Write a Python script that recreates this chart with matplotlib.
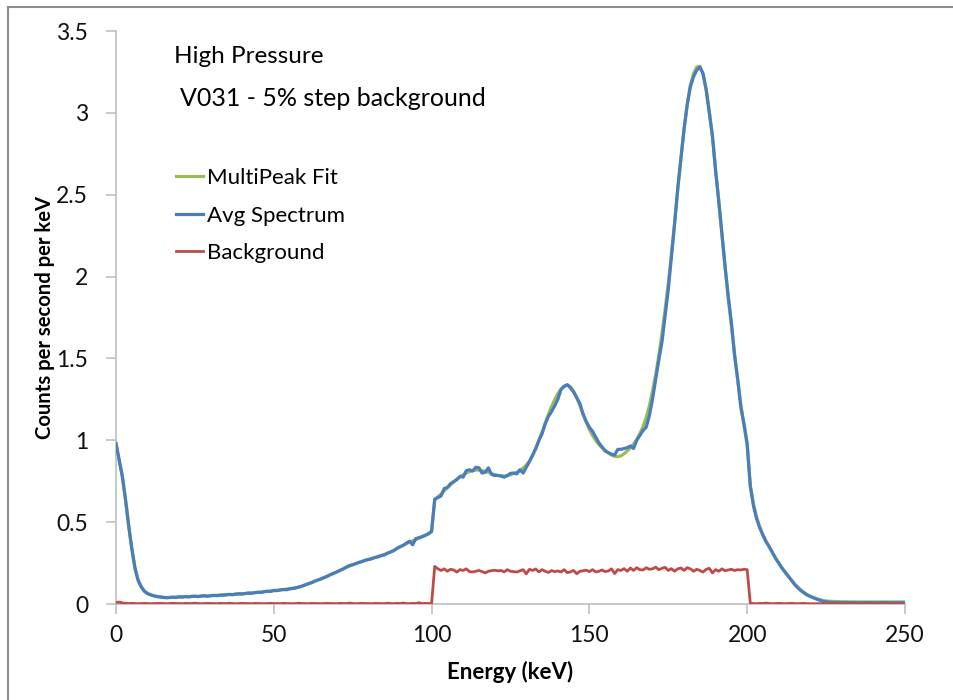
import numpy as np
import matplotlib
matplotlib.use("Agg")
import matplotlib.pyplot as plt
from matplotlib.patches import Rectangle

# energy bins, 1 keV wide
energy_kev = np.arange(0, 251)

avg_spectrum = [
    0.98, 0.88, 0.78, 0.64, 0.48, 0.34, 0.22, 0.145, 0.105, 0.078,
    0.064, 0.056, 0.050, 0.046, 0.043, 0.040, 0.038, 0.040, 0.042, 0.040,
    0.044, 0.042, 0.046, 0.043, 0.047, 0.048, 0.045, 0.049, 0.051, 0.047,
    0.051, 0.053, 0.051, 0.055, 0.054, 0.057, 0.059, 0.057, 0.061, 0.063,
    0.061, 0.065, 0.067, 0.066, 0.070, 0.072, 0.071, 0.076, 0.078, 0.077,
    0.084, 0.082, 0.086, 0.089, 0.087, 0.093, 0.095, 0.099, 0.104, 0.110,
    0.117, 0.124, 0.131, 0.140, 0.147, 0.154, 0.162, 0.170, 0.180, 0.188,
    0.196, 0.206, 0.214, 0.226, 0.235, 0.240, 0.247, 0.254, 0.260, 0.268,
    0.272, 0.276, 0.284, 0.288, 0.296, 0.300, 0.310, 0.318, 0.326, 0.340,
    0.350, 0.358, 0.372, 0.384, 0.362, 0.400, 0.405, 0.412, 0.420, 0.430,
    0.445, 0.640, 0.650, 0.660, 0.705, 0.712, 0.735, 0.748, 0.760, 0.780,
    0.775, 0.815, 0.820, 0.812, 0.835, 0.832, 0.800, 0.805, 0.832, 0.792,
    0.785, 0.785, 0.782, 0.775, 0.785, 0.798, 0.800, 0.795, 0.820, 0.800,
    0.835, 0.870, 0.910, 0.950, 1.000, 1.040, 1.100, 1.145, 1.175, 1.210,
    1.250, 1.310, 1.330, 1.340, 1.320, 1.295, 1.260, 1.225, 1.160, 1.115,
    1.080, 1.055, 1.020, 0.985, 0.960, 0.935, 0.925, 0.915, 0.910, 0.945,
    0.945, 0.950, 0.955, 0.965, 0.950, 1.000, 1.030, 1.060, 1.080, 1.150,
    1.250, 1.370, 1.490, 1.600, 1.760, 1.920, 2.120, 2.320, 2.540, 2.720,
    2.900, 3.050, 3.160, 3.220, 3.260, 3.280, 3.240, 3.140, 3.000, 2.860,
    2.640, 2.460, 2.260, 2.060, 1.880, 1.720, 1.520, 1.370, 1.200, 1.100,
    0.980, 0.720, 0.600, 0.520, 0.465, 0.420, 0.380, 0.350, 0.315, 0.280,
    0.250, 0.220, 0.195, 0.170, 0.145, 0.120, 0.100, 0.082, 0.068, 0.055,
    0.046, 0.038, 0.030, 0.023, 0.017, 0.013, 0.011, 0.010, 0.009, 0.009,
    0.008, 0.009, 0.008, 0.008, 0.009, 0.008, 0.008, 0.008, 0.009, 0.008,
    0.008, 0.008, 0.008, 0.009, 0.008, 0.008, 0.008, 0.008, 0.008, 0.008,
    0.008,
]

multipeak_fit = [
    0.98, 0.88, 0.78, 0.64, 0.48, 0.34, 0.22, 0.145, 0.105, 0.078,
    0.064, 0.056, 0.050, 0.046, 0.043, 0.041, 0.040, 0.040, 0.041, 0.042,
    0.043, 0.044, 0.045, 0.045, 0.046, 0.047, 0.047, 0.048, 0.049, 0.050,
    0.051, 0.052, 0.053, 0.054, 0.055, 0.056, 0.057, 0.058, 0.060, 0.061,
    0.062, 0.064, 0.066, 0.067, 0.069, 0.071, 0.073, 0.075, 0.077, 0.079,
    0.081, 0.083, 0.086, 0.088, 0.091, 0.093, 0.096, 0.099, 0.104, 0.110,
    0.117, 0.124, 0.131, 0.139, 0.147, 0.154, 0.162, 0.171, 0.180, 0.188,
    0.197, 0.206, 0.215, 0.224, 0.232, 0.240, 0.247, 0.254, 0.260, 0.266,
    0.272, 0.278, 0.284, 0.290, 0.296, 0.302, 0.310, 0.318, 0.327, 0.338,
    0.349, 0.359, 0.369, 0.378, 0.386, 0.394, 0.402, 0.410, 0.419, 0.428,
    0.440, 0.640, 0.655, 0.672, 0.692, 0.710, 0.728, 0.745, 0.762, 0.776,
    0.789, 0.800, 0.809, 0.815, 0.818, 0.818, 0.815, 0.810, 0.804, 0.797,
    0.791, 0.786, 0.783, 0.782, 0.784, 0.789, 0.797, 0.806, 0.817, 0.830,
    0.848, 0.872, 0.905, 0.948, 0.998, 1.050, 1.105, 1.158, 1.205, 1.248,
    1.285, 1.312, 1.330, 1.336, 1.328, 1.300, 1.260, 1.212, 1.160, 1.110,
    1.066, 1.030, 1.000, 0.975, 0.955, 0.938, 0.922, 0.910, 0.902, 0.900,
    0.905, 0.918, 0.935, 0.955, 0.978, 1.005, 1.040, 1.085, 1.140, 1.210,
    1.300, 1.400, 1.520, 1.650, 1.800, 1.960, 2.140, 2.330, 2.530, 2.720,
    2.900, 3.050, 3.170, 3.240, 3.280, 3.285, 3.240, 3.150, 3.010, 2.850,
    2.660, 2.460, 2.260, 2.060, 1.870, 1.700, 1.530, 1.370, 1.220, 1.090,
    0.970, 0.720, 0.610, 0.530, 0.470, 0.422, 0.382, 0.348, 0.314, 0.280,
    0.250, 0.222, 0.196, 0.171, 0.147, 0.124, 0.104, 0.086, 0.071, 0.058,
    0.048, 0.040, 0.033, 0.027, 0.022, 0.019, 0.017, 0.016, 0.015, 0.015,
    0.014, 0.014, 0.014, 0.013, 0.013, 0.013, 0.013, 0.013, 0.013, 0.013,
    0.013, 0.013, 0.013, 0.013, 0.013, 0.013, 0.013, 0.013, 0.013, 0.013,
    0.013,
]

background = [
    0.010, 0.012, 0.007, 0.004, 0.003, 0.004, 0.003, 0.002, 0.003, 0.004,
    0.003, 0.002, 0.003, 0.003, 0.004, 0.003, 0.002, 0.003, 0.004, 0.003,
    0.003, 0.002, 0.004, 0.003, 0.003, 0.005, 0.003, 0.002, 0.003, 0.004,
    0.003, 0.003, 0.002, 0.004, 0.003, 0.003, 0.005, 0.003, 0.002, 0.003,
    0.004, 0.003, 0.003, 0.002, 0.004, 0.003, 0.003, 0.002, 0.003, 0.004,
    0.003, 0.003, 0.002, 0.004, 0.003, 0.003, 0.002, 0.003, 0.005, 0.003,
    0.003, 0.002, 0.004, 0.003, 0.003, 0.002, 0.003, 0.004, 0.003, 0.003,
    0.002, 0.004, 0.003, 0.003, 0.006, 0.003, 0.002, 0.003, 0.004, 0.003,
    0.003, 0.002, 0.004, 0.003, 0.003, 0.002, 0.005, 0.003, 0.002, 0.004,
    0.003, 0.006, 0.003, 0.002, 0.004, 0.003, 0.008, 0.003, 0.004, 0.003,
    0.004, 0.230, 0.215, 0.205, 0.215, 0.200, 0.212, 0.208, 0.195, 0.210,
    0.205, 0.215, 0.198, 0.196, 0.200, 0.205, 0.198, 0.190, 0.200, 0.204,
    0.206, 0.203, 0.205, 0.196, 0.210, 0.200, 0.198, 0.195, 0.203, 0.210,
    0.184, 0.212, 0.205, 0.214, 0.196, 0.210, 0.200, 0.193, 0.204, 0.198,
    0.202, 0.196, 0.210, 0.192, 0.196, 0.205, 0.185, 0.200, 0.203, 0.207,
    0.198, 0.210, 0.196, 0.200, 0.208, 0.198, 0.202, 0.215, 0.186, 0.210,
    0.205, 0.216, 0.200, 0.220, 0.205, 0.222, 0.210, 0.208, 0.222, 0.212,
    0.215, 0.225, 0.210, 0.218, 0.224, 0.205, 0.216, 0.200, 0.215, 0.220,
    0.205, 0.222, 0.215, 0.200, 0.212, 0.205, 0.195, 0.212, 0.218, 0.190,
    0.210, 0.200, 0.215, 0.203, 0.208, 0.212, 0.205, 0.210, 0.208, 0.212,
    0.210, 0.004, 0.003, 0.002, 0.004, 0.003, 0.006, 0.003, 0.002, 0.003,
    0.004, 0.003, 0.002, 0.003, 0.004, 0.003, 0.002, 0.003, 0.004, 0.002,
    0.002, 0.002, 0.002, 0.002, 0.002, 0.002, 0.002, 0.002, 0.002, 0.002,
    0.002, 0.002, 0.002, 0.002, 0.002, 0.002, 0.002, 0.002, 0.002, 0.002,
    0.002, 0.002, 0.002, 0.002, 0.002, 0.002, 0.002, 0.002, 0.002, 0.002,
    0.002,
]

x_ticks = [0, 50, 100, 150, 200, 250]
y_ticks = [0, 0.5, 1, 1.5, 2, 2.5, 3, 3.5]
y_tick_labels = ["0", "0.5", "1", "1.5", "2", "2.5", "3", "3.5"]

plt.rcParams['font.family'] = ['Lato', 'DejaVu Sans']

fig = plt.figure(figsize=(9.54, 7.0), dpi=100)
ax = fig.add_axes([0.1216, 0.1371, 0.8270, 0.8186])

# chart border (only top and left edges fall inside the image)
fig.patches.append(Rectangle((8 / 954, -0.1), 1.2, 1.1 - 7 / 700,
                             transform=fig.transFigure, fill=False,
                             edgecolor="#8c8c8c", linewidth=1.5))

ax.plot(energy_kev, multipeak_fit, color="#9bbb59", lw=2.3, label="MultiPeak Fit", zorder=2)
ax.plot(energy_kev, avg_spectrum, color="#4a7ebb", lw=2.3, label="Avg Spectrum", zorder=3)
ax.plot(energy_kev, background, color="#be4b48", lw=2.0, label="Background", zorder=4)

ax.set_xlim(0, 250)
ax.set_ylim(0, 3.5)
ax.set_xticks(x_ticks)
ax.set_xticklabels([str(t) for t in x_ticks])
ax.set_yticks(y_ticks)
ax.set_yticklabels(y_tick_labels)

for s in ["top", "right"]:
    ax.spines[s].set_visible(False)
for s in ["left", "bottom"]:
    ax.spines[s].set_color("#bfbfbf")
    ax.spines[s].set_linewidth(1.2)
ax.tick_params(axis="both", direction="out", length=7, width=1.2,
               color="#bfbfbf", labelsize=16.5, labelcolor="#111111")
ax.tick_params(axis="y", pad=13)
ax.tick_params(axis="x", pad=8)

ax.set_xlabel("Energy (keV)", fontsize=16, fontweight="bold", labelpad=11)
ax.set_ylabel("Counts per second per keV", fontsize=14.6, fontweight="bold", labelpad=1)

ax.text(0.074, 0.955, "High Pressure", transform=ax.transAxes, fontsize=17.5,
        ha="left", va="center")
ax.text(0.081, 0.882, "V031 - 5% step background", transform=ax.transAxes,
        fontsize=18, ha="left", va="center")

leg = ax.legend(loc="upper left", bbox_to_anchor=(0.065, 0.776), frameon=False,
                fontsize=16, handlelength=1.2, handletextpad=0.2,
                labelspacing=0.78, borderaxespad=0)

fig.savefig("out.png", dpi=100)
